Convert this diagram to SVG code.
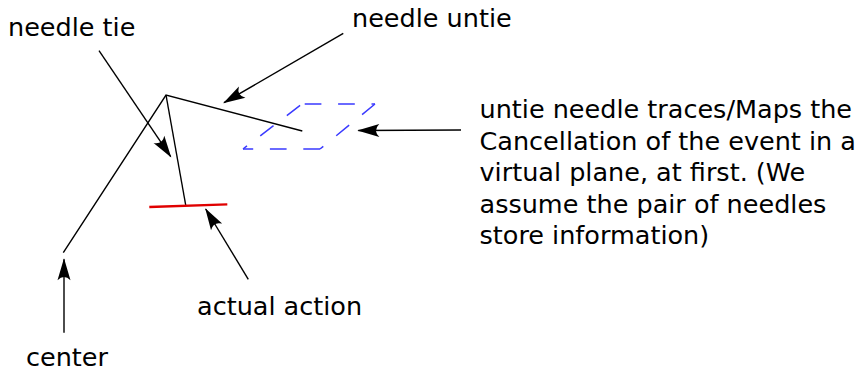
<svg xmlns="http://www.w3.org/2000/svg" width="861" height="371" viewBox="0 0 861 371">
  <style>
    .label { font-family: "DejaVu Sans", "Noto Sans", sans-serif; font-size: 25.5px; fill: #000; }
    .stroke { fill: none; stroke: #000; stroke-width: 1.4; stroke-linecap: butt; }
    .arrow { fill: none; stroke: #000; stroke-width: 1.4; marker-end: url(#head); }
    .plane { fill: none; stroke: #3a3aff; stroke-width: 1.5; stroke-dasharray: 16.7 16.7; }
    .action { fill: none; stroke: #e00000; stroke-width: 2.3; }
  </style>
  <defs>
    <!-- concave arrowhead, tip at the line end -->
    <marker id="head" markerUnits="userSpaceOnUse" viewBox="-23 -8 25 16" refX="0" refY="0" markerWidth="25" markerHeight="16" orient="auto" overflow="visible">
      <path d="M1,0 L-21,-6.5 Q-14.5,0 -21,6.5 Z" fill="#000"/>
    </marker>
  </defs>

  <rect width="861" height="371" fill="#fff"/>

  <!-- the pair of needles hinged at the center point -->
  <g id="needles">
    <polyline class="stroke" points="63.3,252.7 166,95 302.3,131"/>
    <line class="stroke" x1="166" y1="95" x2="185.7" y2="205"/>
  </g>

  <!-- the actual action mark -->
  <g id="action-mark">
    <line class="action" x1="149.3" y1="207" x2="227.3" y2="204.3"/>
  </g>

  <!-- virtual plane traced by the untie needle -->
  <g id="virtual-plane">
    <line class="plane" x1="320" y1="149" x2="243" y2="149"/>
    <line class="plane" x1="243" y1="149" x2="302" y2="104" stroke-dashoffset="11.7"/>
    <line class="plane" x1="302" y1="104" x2="375" y2="104" stroke-dashoffset="30.7"/>
    <line class="plane" x1="375" y1="104" x2="320" y2="149"/>
  </g>

  <!-- labels -->
  <g id="label-needle-tie">
    <text class="label" x="8" y="36">needle tie</text>
  </g>
  <g id="label-needle-untie">
    <text class="label" x="352" y="27">needle untie</text>
  </g>
  <g id="label-plane">
    <text class="label" x="479.5" y="118">
      <tspan x="479.5" y="118">untie needle traces/Maps the</tspan>
      <tspan x="479.5" y="149.5">Cancellation of the event in a</tspan>
      <tspan x="479.5" y="181">virtual plane, at first. (We</tspan>
      <tspan x="479.5" y="212.5">assume the pair of needles</tspan>
      <tspan x="479.5" y="244">store information)</tspan>
    </text>
  </g>
  <g id="label-actual-action">
    <text class="label" x="197" y="315">actual action</text>
  </g>
  <g id="label-center">
    <text class="label" x="26" y="366">center</text>
  </g>

  <!-- pointer arrows from labels to parts -->
  <g id="connectors">
    <line class="arrow" x1="99" y1="50.7" x2="170.7" y2="156.7"/>
    <line class="arrow" x1="343.3" y1="33.3" x2="224" y2="102.7"/>
    <line class="arrow" x1="461" y1="130" x2="358.3" y2="130.5"/>
    <line class="arrow" x1="248.3" y1="279.3" x2="205.7" y2="209"/>
    <line class="arrow" x1="64" y1="332.7" x2="64" y2="259.3"/>
  </g>
</svg>
